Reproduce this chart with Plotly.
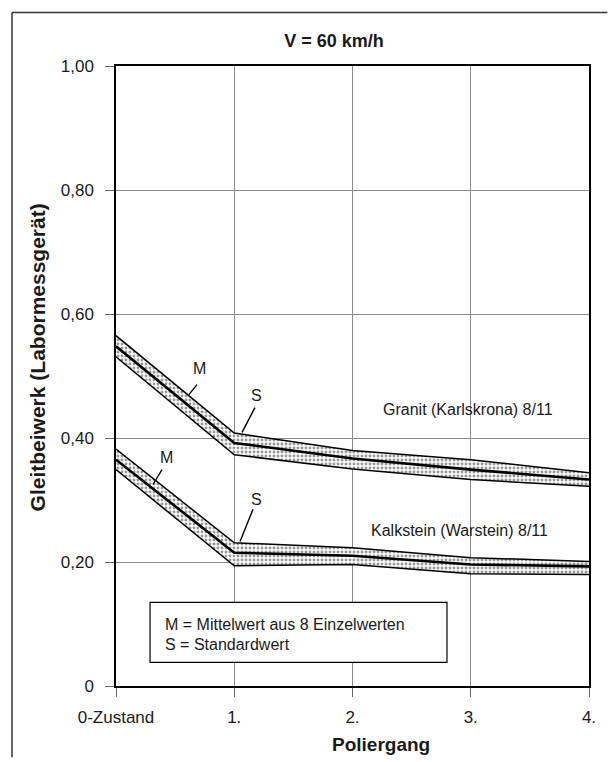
import plotly.graph_objects as go

# Polishing passes (x positions) and their tick labels
passes = [0, 1, 2, 3, 4]
pass_labels = ["0-Zustand", "1.", "2.", "3.", "4."]

# Granit (Karlskrona) 8/11: scatter band and mean value
granit_upper = [0.565, 0.408, 0.380, 0.365, 0.344]
granit_mean = [0.548, 0.392, 0.367, 0.349, 0.333]
granit_lower = [0.531, 0.373, 0.350, 0.333, 0.322]

# Kalkstein (Warstein) 8/11: scatter band and mean value
kalk_upper = [0.382, 0.231, 0.223, 0.207, 0.201]
kalk_mean = [0.365, 0.215, 0.210, 0.196, 0.193]
kalk_lower = [0.349, 0.194, 0.196, 0.181, 0.180]

y_ticks = [0, 0.2, 0.4, 0.6, 0.8, 1.0]
y_tick_labels = ["0", "0,20", "0,40", "0,60", "0,80", "1,00"]

FONT = "Liberation Sans, Arial, sans-serif"
TXT = "#1a1a1a"
dots = dict(shape=".", fgcolor="#333333", bgcolor="white", size=4, solidity=0.42)

fig = go.Figure()


def add_band(lower, mean, upper):
    fig.add_trace(go.Scatter(x=passes, y=lower, mode="lines",
                             line=dict(color="black", width=1.5),
                             hoverinfo="skip", showlegend=False))
    fig.add_trace(go.Scatter(x=passes, y=upper, mode="lines",
                             line=dict(color="black", width=1.5),
                             fill="tonexty", fillcolor="white", fillpattern=dots,
                             hoverinfo="skip", showlegend=False))
    fig.add_trace(go.Scatter(x=passes, y=mean, mode="lines",
                             line=dict(color="black", width=2.6),
                             showlegend=False))


add_band(granit_lower, granit_mean, granit_upper)
add_band(kalk_lower, kalk_mean, kalk_upper)

annotations = [
    dict(x=0.71, y=0.512, text="M"),
    dict(x=1.184, y=0.469, text="S"),
    dict(x=0.431, y=0.369, text="M"),
    dict(x=1.184, y=0.301, text="S"),
    dict(x=2.977, y=0.446, text="Granit (Karlskrona) 8/11"),
    dict(x=2.909, y=0.251, text="Kalkstein (Warstein) 8/11"),
]
for a in annotations:
    fig.add_annotation(x=a["x"], y=a["y"], text=a["text"], showarrow=False,
                       xref="x", yref="y", font=dict(size=16, color=TXT, family=FONT))

# Leader lines from the M / S labels to the curves
leaders = [
    (0.685, 0.486, 0.617, 0.470),
    (1.175, 0.449, 1.066, 0.409),
    (0.389, 0.349, 0.313, 0.325),
    (1.159, 0.285, 1.049, 0.233),
]
for x0, y0, x1, y1 in leaders:
    fig.add_shape(type="line", x0=x0, y0=y0, x1=x1, y1=y1, xref="x", yref="y",
                  line=dict(color="black", width=1.4))

# Explanation box
fig.add_shape(type="rect", x0=0.288, y0=0.038, x1=2.799, y1=0.135, xref="x", yref="y",
              line=dict(color="black", width=1.2), fillcolor="white", layer="above")
fig.add_annotation(x=0.398, y=0.099, xref="x", yref="y", xanchor="left", showarrow=False,
                   text="M = Mittelwert aus 8 Einzelwerten",
                   font=dict(size=16, color=TXT, family=FONT))
fig.add_annotation(x=0.398, y=0.067, xref="x", yref="y", xanchor="left", showarrow=False,
                   text="S = Standardwert",
                   font=dict(size=16, color=TXT, family=FONT))

# Axis titles
fig.add_annotation(x=-0.167, y=0.530, xref="paper", yref="paper", textangle=-90,
                   xanchor="center", yanchor="middle",
                   showarrow=False, text="<b>Gleitbeiwerk (Labormessgerät)</b>",
                   font=dict(size=21, color=TXT, family=FONT))
fig.add_annotation(x=0.560, y=-0.0944, xref="paper", yref="paper", showarrow=False,
                   xanchor="center", yanchor="middle",
                   text="<b>Poliergang</b>", font=dict(size=19, color=TXT, family=FONT))

# Outer frame (left and top edges)
fig.add_shape(type="line", xref="paper", yref="paper", x0=-0.2199, y0=-0.115,
              x1=-0.2199, y1=1.0863, line=dict(color="#333", width=1.5))
fig.add_shape(type="line", xref="paper", yref="paper", x0=-0.2199, y0=1.0863,
              x1=1.039, y1=1.0863, line=dict(color="#333", width=1.5))

fig.update_layout(
    width=610, height=762,
    margin=dict(l=116, r=21, t=66, b=76),
    paper_bgcolor="white", plot_bgcolor="white",
    font=dict(family=FONT, size=17, color=TXT),
    title=dict(text="<b>V = 60 km/h</b>", x=334 / 610, xanchor="center",
               y=1 - 41 / 762, yanchor="middle",
               font=dict(size=18, family=FONT, color=TXT)),
    showlegend=False,
)
fig.update_xaxes(range=[0, 4], tickvals=passes, ticktext=pass_labels,
                 showgrid=True, gridcolor="#8a8a8a", gridwidth=1,
                 showline=True, mirror=True, linecolor="black", linewidth=1.5,
                 ticks="outside", ticklen=9, tickcolor="#666", zeroline=False,
                 ticklabelstandoff=6, tickfont=dict(size=17))
fig.update_yaxes(range=[0, 1], tickvals=y_ticks, ticktext=y_tick_labels,
                 showgrid=True, gridcolor="#8a8a8a", gridwidth=1,
                 showline=True, mirror=True, linecolor="black", linewidth=1.5,
                 ticks="outside", ticklen=9, tickcolor="#666", zeroline=False,
                 ticklabelstandoff=8, tickfont=dict(size=17))

fig.write_html("out.html")
